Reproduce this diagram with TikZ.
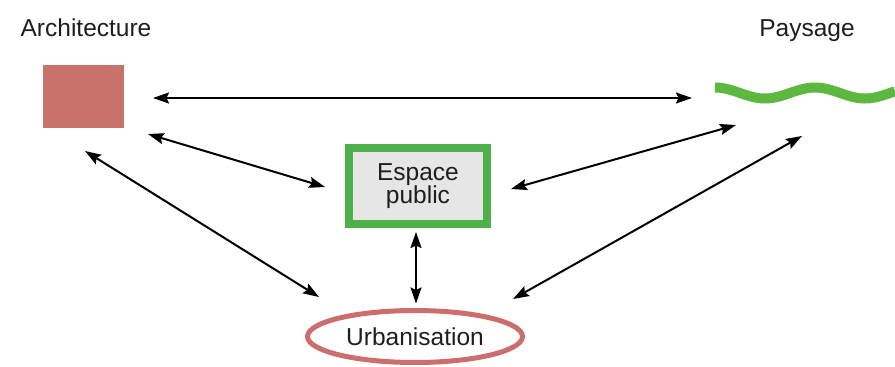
\documentclass[tikz,border=0pt]{standalone}
\usepackage{fontspec}
\setmainfont{Liberation Sans}
\usetikzlibrary{arrows.meta,calc,shapes.geometric}
\definecolor{archred}{RGB}{201,114,108}
\definecolor{urbred}{RGB}{205,110,110}
\definecolor{boxgreen}{RGB}{78,176,72}
\definecolor{wavegreen}{RGB}{92,184,62}
\definecolor{boxgray}{RGB}{230,230,230}
\definecolor{txt}{RGB}{30,30,30}
\tikzset{
  lbl/.style={font=\fontsize{24.5}{23.5}\selectfont, text=txt, inner sep=0pt, anchor=base},
  link/.style={{Stealth[length=16pt,width=11pt,inset=2.5pt]}-{Stealth[length=16pt,width=11pt,inset=2.5pt]}, line width=2pt, black},
  archbox/.style={fill=archred, draw=none, minimum width=81pt, minimum height=63pt, inner sep=0pt, outer sep=0pt},
  espbox/.style={draw=boxgreen, line width=8pt, fill=boxgray, minimum width=138pt, minimum height=76pt, inner sep=0pt, outer sep=0pt, align=center, text=txt, font=\fontsize{24.5}{23.5}\selectfont},
  urbell/.style={ellipse, draw=urbred, line width=5pt, minimum width=215pt, minimum height=52pt, inner sep=0pt, outer sep=0pt, text=txt, font=\fontsize{24.5}{24}\selectfont},
  wave/.style={draw=wavegreen, line width=10pt}
}
\begin{document}
\begin{tikzpicture}[x=1pt,y=-1pt]
\useasboundingbox (0,0) rectangle (895,367);
% labels
\node[lbl] (archlabel) at (86,36) {Architecture};
\node[lbl] (paylabel) at (807,36.5) {Paysage};
% shapes
\node[archbox] (arch) at (83.5,96.5) {};
\node[espbox] (esp) at (418,186) {Espace\\public};
\node[urbell] (urb) at (415,336.5) {Urbanisation};
\draw[wave] plot[domain=715:895, samples=120] (\x, {93 - 5.5*cos((\x-715)*3.6)});
\coordinate (pay) at (805,93);
% connectors
\draw[link] ($(arch.east)+(29,1.5)$) -- ($(pay)+(-113,5)$);
\draw[link] ($(arch.south east)+(24,6)$) -- ($(esp.west)+(-24,1)$);
\draw[link] ($(arch.south)+(1.5,23)$) -- ($(urb.center)+(-96,-39.5)$);
\draw[link] ($(esp.east)+(24,3)$) -- ($(pay)+(-69,32)$);
\draw[link] ($(urb.center)+(98,-37.5)$) -- ($(pay)+(-3,43)$);
\draw[link] ($(esp.south)+(-2,8)$) -- ($(urb.north)+(1,-7)$);
\end{tikzpicture}
\end{document}
